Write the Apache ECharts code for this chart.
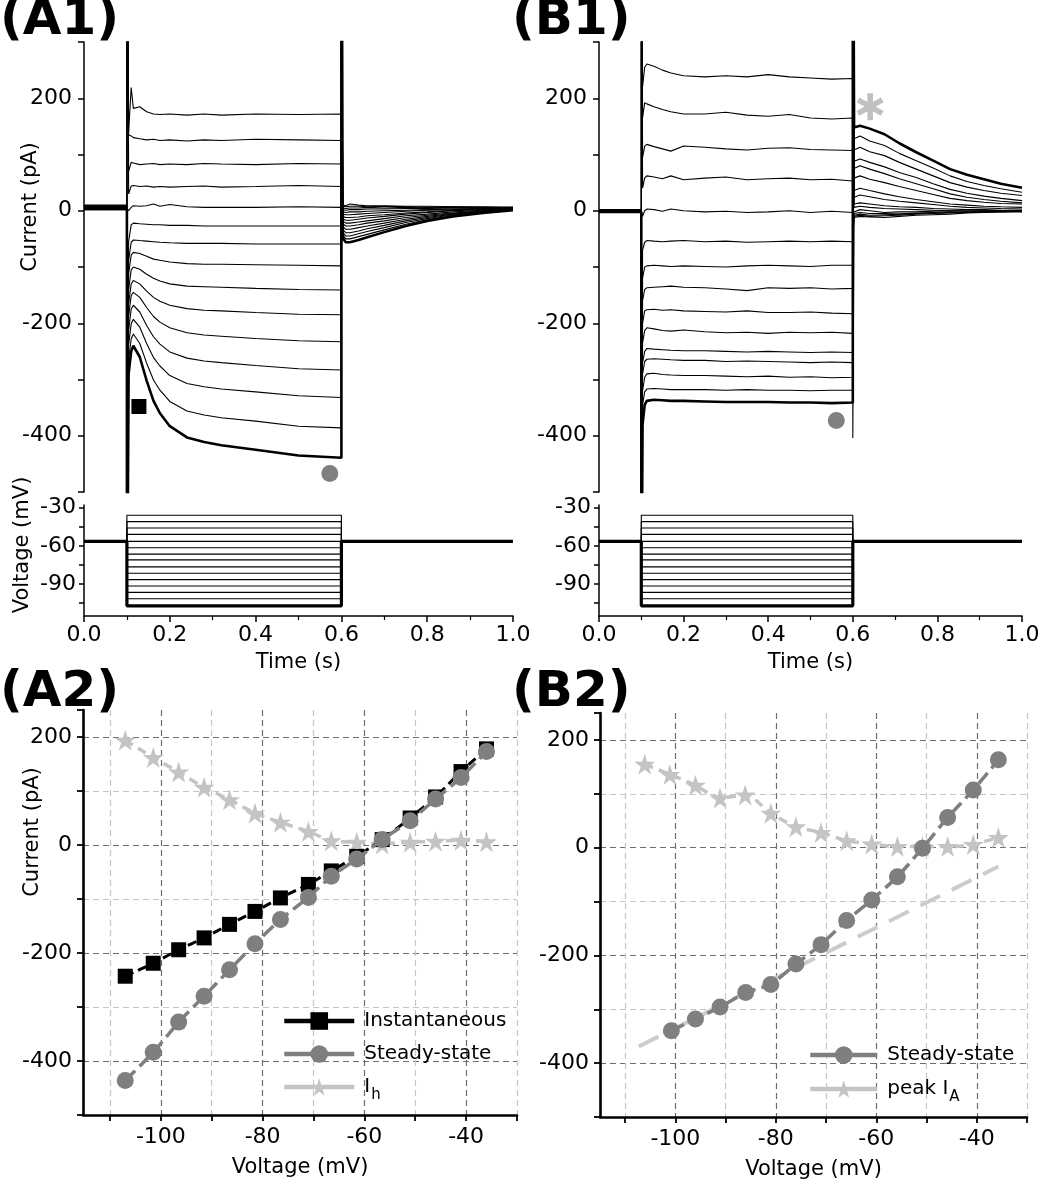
<!DOCTYPE html>
<html><head><meta charset="utf-8">
<script src="https://cdn.jsdelivr.net/npm/echarts@6/dist/echarts.min.js"></script>
<style>html,body{margin:0;padding:0;background:#fff}#c{width:1050px;height:1200px}</style>
</head><body><div id="c"></div>
<script>
// ---------------- DATA ----------------
// step voltages (mV), most negative first
const V_STEPS = [-107,-101.5,-96.5,-91.5,-86.5,-81.5,-76.5,-71,-66.5,-61.5,-56.5,-51,-46,-41,-36];
const V_HOLD = -56.5;

// A2 I-V
const V_A = [-107,-101.5,-96.5,-91.5,-86.5,-81.5,-76.5,-71,-66.5,-61.5,-56.5,-51,-46,-41,-36];
const instA = [-243,-219,-194,-172,-147,-123,-98,-73,-48,-21,10,50,89,136,178];
const ssA = [-436,-384,-328,-280,-231,-183,-138,-97,-58,-26,10,45,85,125,173];
const ihA = [194,162,135,107,84,59,42,25,8,5,2,5,7,9,6];

// B2 I-V
const V_B_ss = [-100.8,-96,-91.1,-86,-81,-76,-71,-65.9,-60.9,-55.8,-50.8,-45.8,-40.7,-35.7];
const ssB = [-340,-318,-296,-269,-254,-216,-180,-135,-97,-54,-1,56,107,163];
const V_B_ia = [-106.1,-101.1,-96,-91.1,-86.1,-81,-76,-71,-65.9,-60.9,-55.8,-50.8,-45.8,-40.7,-35.7];
const iaB = [155,136,116,92,98,64,39,28,13,7,2,2,2,6,19];
const fitB_V = [-107.3,-35.7];
const fitB_I = [-369,-35];

// A1 current traces (pA); index 0 = most hyperpolarised step
const A_pre = [3,5,8,4,6,9,2,7,5,10,4,6,8,3,7];
const A_on = [-800,-800,-800,-800,-800,-800,-800,-800,-800,-800,4,800,800,800,800];
const T_PULSE_A = [0.104,0.11,0.115,0.13,0.146,0.162,0.177,0.2,0.24,0.28,0.32,0.4,0.5,0.6];
const A_pulse = [
 [-290,-250,-240,-260,-302,-338,-360,-383,-403,-411,-417,-425,-435,-439],
 [-265,-228,-219,-236,-271,-301,-319,-339,-356,-363,-368,-374,-383,-386],
 [-238,-201,-193,-207,-236,-261,-276,-293,-307,-313,-317,-322,-329,-332],
 [-212,-175,-168,-180,-204,-224,-237,-251,-262,-267,-270,-275,-281,-283],
 [-188,-151,-145,-154,-172,-188,-198,-208,-217,-221,-223,-227,-231,-233],
 [-165,-130,-124,-130,-143,-154,-161,-168,-174,-177,-178,-181,-184,-185],
 [-140,-105,-100,-104,-113,-120,-125,-130,-134,-135,-136,-138,-140,-141],
 [-112,-79,-74,-76,-81,-86,-88,-91,-94,-95,-95,-96,-97,-98],
 [-88,-56,-52,-53,-54,-55,-56,-57,-58,-58,-58,-59,-59,-59],
 [-55,-25,-22,-23,-24,-25,-25,-26,-26,-27,-27,-27,-27,-27],
 [0,6,9,8,9,12,8,11,7,6,6,6,7,6],
 [30,44,45,43,44,42,43,42,43,44,42,43,45,43],
 [70,86,85,82,83,84,82,83,82,84,83,82,84,83],
 [135,133,130,128,126,127,125,126,124,126,125,127,126,125],
 [140,219,182,185,176,172,171,172,170,172,170,172,171,172]
];
const A_off = [800,800,800,800,800,800,800,800,800,800,6,-25,-40,-55,-70];
const T_TAIL_A = [0.603,0.61,0.62,0.64,0.66,0.7,0.75,0.8,0.86,0.93,1.0];
const A_tail = [
 [-48,-56,-56,-52,-47,-38,-27,-18,-10,-4,1],
 [-43,-50,-50,-46,-42,-34,-24,-16,-9,-3,1],
 [-38,-45,-45,-41,-37,-30,-21,-14,-7,-2,2],
 [-33,-39,-39,-36,-32,-26,-18,-12,-6,-1,2],
 [-28,-33,-33,-30,-27,-22,-15,-10,-5,-1,3],
 [-23,-27,-27,-25,-22,-18,-12,-8,-4,0,3],
 [-18,-22,-22,-20,-18,-14,-9,-6,-2,1,4],
 [-14,-17,-17,-15,-13,-10,-6,-3,0,2,4],
 [-10,-12,-12,-11,-9,-7,-4,-2,1,3,4],
 [-6,-7,-7,-6,-5,-3,-1,1,2,4,5],
 [-2,-3,-2,-2,-1,0,1,2,3,4,5],
 [2,1,2,2,3,3,4,4,5,5,5],
 [5,4,5,5,6,5,6,5,6,5,6],
 [8,7,8,8,7,8,7,6,7,6,6],
 [10,9,12,10,9,9,8,8,7,7,6]
];

// B1 current traces (pA)
const B_pre = [-2,0,1,-1,2,0,-3,1,-1,2,0,-2,1,-1,0];
const B_on = [-800,-800,-800,-800,-800,-800,-800,-800,-800,-800,-3,800,800,800,800];
const T_PULSE_B = [0.103,0.108,0.113,0.13,0.15,0.17,0.2,0.25,0.3,0.35,0.4,0.45,0.5,0.55,0.6];
const B_pulse = [
 [-380,-345,-338,-336,-337,-338,-338,-339,-340,-340,-340,-341,-341,-342,-341],
 [-345,-322,-317,-316,-317,-318,-318,-318,-319,-318,-319,-319,-320,-319,-319],
 [-320,-296,-290,-289,-291,-292,-293,-293,-294,-295,-294,-296,-295,-297,-296],
 [-290,-268,-264,-263,-264,-265,-266,-266,-268,-267,-268,-269,-270,-269,-270],
 [-270,-250,-245,-246,-247,-248,-249,-249,-250,-251,-250,-251,-252,-251,-252],
 [-235,-213,-208,-210,-213,-214,-212,-215,-217,-216,-218,-216,-217,-216,-218],
 [-200,-178,-176,-175,-177,-176,-178,-179,-180,-178,-181,-181,-180,-182,-183],
 [-160,-140,-137,-136,-135,-134,-136,-137,-139,-142,-137,-138,-137,-139,-138],
 [-120,-100,-98,-97,-98,-99,-98,-99,-100,-98,-97,-98,-99,-97,-97],
 [-70,-56,-53,-54,-55,-54,-53,-55,-54,-56,-55,-54,-55,-54,-55],
 [-10,0,3,2,-1,3,0,-2,-1,-3,-2,0,-3,-1,-3],
 [40,58,62,60,57,62,55,58,60,55,57,58,55,56,53],
 [95,115,118,114,110,106,115,113,110,108,111,112,109,108,107],
 [165,192,190,185,180,176,172,172,175,170,168,171,165,163,165],
 [220,255,261,257,250,245,240,238,240,238,242,238,236,234,235]
];
const B_off = [800,800,800,800,800,800,800,800,800,800,-3,-50,-50,-50,-404];
const T_TAIL_B = [0.603,0.617,0.64,0.675,0.71,0.75,0.79,0.83,0.87,0.91,0.95,1.0];
const B_tail = [
 [148,151,146,136,120,104,89,74,64,56,48,41],
 [128,133,124,116,102,89,76,62,52,45,39,33],
 [108,113,105,98,86,74,62,50,42,36,31,27],
 [88,92,86,78,68,59,48,38,31,26,22,18],
 [75,80,74,66,57,48,39,30,24,20,17,14],
 [58,62,56,50,43,36,29,22,18,15,13,12],
 [36,40,36,30,25,20,16,12,10,8,7,6],
 [24,28,25,20,17,14,11,8,6,5,4,3],
 [12,14,12,9,7,6,4,3,2,2,1,1],
 [6,8,6,4,3,2,1,0,0,0,0,0],
 [0,2,0,-3,-2,-2,-1,0,-1,0,0,0],
 [-5,-3,-5,-5,-6,-4,-3,-2,-3,-1,-1,0],
 [-8,-6,-8,-7,-6,-5,-4,-3,-2,-2,-1,-1],
 [-10,-8,-10,-9,-8,-6,-5,-4,-3,-2,-2,-1],
 [-12,-10,-11,-12,-10,-8,-7,-6,-4,-3,-2,-2]
];

// annotation markers [t (s), I (pA)]
const markA_square = [[0.128,-348]];
const markA_circle = [[0.573,-467]];
const markB_circle = [[0.561,-373]];
const markB_star = [[0.641,185]];

// tick values
const I_TICK_LABELS = [200,0,-200,-400];
const V_TICKS = [-105,-90,-75,-60,-45,-30];
const V_TICK_LABELS = [-90,-60,-30];
const IV_X_TICKS = [-110,-100,-90,-80,-70,-60,-50,-40,-30];
const IV_X_LABELS = [-100,-80,-60,-40];
const IV_Y_LABELS = [200,0,-200,-400];

// ---------------- BUILD ----------------
const FONT = 'DejaVu Sans';
const STAR = 'path://M50,2 L61.2,36.2 L97.6,36.2 L68.2,57.4 L79.4,91.6 L50,70.4 L20.6,91.6 L31.8,57.4 L2.4,36.2 L38.8,36.2 Z';
const ASTER = 'path://M40,0 L60,0 L60,100 L40,100 Z M1.7,33.66 L11.7,16.34 L98.3,66.34 L88.3,83.66 Z M88.3,16.34 L98.3,33.66 L11.7,83.66 L1.7,66.34 Z';

function buildTrace(pre, on, tp, pulse, off, tt, tail) {
  const d = [[0, pre], [0.1, pre], [0.1, on]];
  tp.forEach((t, i) => d.push([t, pulse[i]]));
  d.push([0.6, off]);
  tt.forEach((t, i) => d.push([t, tail[i]]));
  return d;
}
const zip = (xs, ys) => xs.map((x, i) => [x, ys[i]]);

const series = [];
for (let k = 0; k < 15; k++) {
  series.push({type:'line', xAxisIndex:0, yAxisIndex:0, symbol:'none', silent:true, z: k===0?4:2,
    data: buildTrace(A_pre[k], A_on[k], T_PULSE_A, A_pulse[k], A_off[k], T_TAIL_A, A_tail[k]),
    lineStyle:{color:'#000', width: k===0?2.6:1.1}});
  series.push({type:'line', xAxisIndex:2, yAxisIndex:2, symbol:'none', silent:true, z: k===0?4:2,
    data: buildTrace(B_pre[k], B_on[k], T_PULSE_B, B_pulse[k], B_off[k], T_TAIL_B, B_tail[k]),
    lineStyle:{color:'#000', width: k===0?2.6:1.1}});
}
V_STEPS.forEach((v, k) => {
  const d = [[0,V_HOLD],[0.1,V_HOLD],[0.1,v],[0.6,v],[0.6,V_HOLD],[1,V_HOLD]];
  [1,3].forEach(ax => series.push({type:'line', xAxisIndex:ax, yAxisIndex:ax, symbol:'none', silent:true,
    z: k===0?4:2, data: d, lineStyle:{color:'#000', width: k===0?3.2:1.1}}));
});
// annotations
const solid = c => ({color:c, opacity:1});
series.push({type:'scatter', xAxisIndex:0, yAxisIndex:0, data:markA_square, symbol:'rect', symbolSize:15, itemStyle:solid('#000'), z:5, silent:true});
series.push({type:'scatter', xAxisIndex:0, yAxisIndex:0, data:markA_circle, symbol:'circle', symbolSize:17, itemStyle:solid('#808080'), z:5, silent:true});
series.push({type:'scatter', xAxisIndex:2, yAxisIndex:2, data:markB_circle, symbol:'circle', symbolSize:17, itemStyle:solid('#808080'), z:5, silent:true});
series.push({type:'scatter', xAxisIndex:2, yAxisIndex:2, data:markB_star, symbol:ASTER, symbolSize:27, itemStyle:solid('#c0c0c0'), z:5, silent:true});

// A2
series.push({name:'Ih', type:'line', xAxisIndex:4, yAxisIndex:4, data:zip(V_A, ihA), symbol:STAR, symbolSize:21, smooth:0.3,
  itemStyle:{color:'#c4c4c4'}, lineStyle:{color:'#c4c4c4', width:3.5, type:[9,6]}, z:3});
series.push({name:'Instantaneous', type:'line', xAxisIndex:4, yAxisIndex:4, data:zip(V_A, instA), symbol:'rect', symbolSize:15, smooth:0.15,
  itemStyle:{color:'#000'}, lineStyle:{color:'#000', width:3, type:[9,5]}, z:4});
series.push({name:'Steady-state', type:'line', xAxisIndex:4, yAxisIndex:4, data:zip(V_A, ssA), symbol:'circle', symbolSize:17, smooth:0.15,
  itemStyle:{color:'#7f7f7f'}, lineStyle:{color:'#7f7f7f', width:3.5, type:[14,6]}, z:5});
// B2
series.push({name:'fit', type:'line', xAxisIndex:5, yAxisIndex:5, data:zip(fitB_V, fitB_I), symbol:'none',
  lineStyle:{color:'#cccccc', width:4, type:[22,13]}, z:2, silent:true});
series.push({name:'peak IA', type:'line', xAxisIndex:5, yAxisIndex:5, data:zip(V_B_ia, iaB), symbol:STAR, symbolSize:21, smooth:0.3,
  itemStyle:{color:'#c4c4c4'}, lineStyle:{color:'#c4c4c4', width:3.5, type:[9,6]}, z:3});
series.push({name:'Steady-state', type:'line', xAxisIndex:5, yAxisIndex:5, data:zip(V_B_ss, ssB), symbol:'circle', symbolSize:17, smooth:0.15,
  itemStyle:{color:'#7f7f7f'}, lineStyle:{color:'#7f7f7f', width:3.5, type:[14,6]}, z:5});

const lblStyle = {fontFamily:FONT, fontSize:22, color:'#000'};
const axLine = w => ({show:true, onZero:false, lineStyle:{color:'#000', width:w}});

function currentY(grid) {
  return {gridIndex:grid, type:'value', min:-500, max:300, interval:100,
    axisLine:axLine(1.5), axisTick:{show:true, length:6, lineStyle:{color:'#000', width:1.5}},
    axisLabel:Object.assign({margin:12, formatter: v => I_TICK_LABELS.includes(v) ? String(v) : ''}, lblStyle),
    splitLine:{show:false}};
}
function voltY(grid) {
  return {gridIndex:grid, type:'value', min:-115, max:-28,
    axisLine:axLine(1.5), axisTick:{show:true, length:5, customValues:V_TICKS, lineStyle:{color:'#000', width:1.5}},
    axisLabel:Object.assign({margin:8, customValues:V_TICK_LABELS}, lblStyle),
    splitLine:{show:false}};
}
function timeX(grid) {
  return {gridIndex:grid, type:'value', min:0, max:1, interval:0.2,
    axisLine:axLine(1.5), axisTick:{show:true, length:6, lineStyle:{color:'#000', width:1.5}},
    minorTick:{show:true, splitNumber:2, length:4, lineStyle:{color:'#000', width:1.2}},
    axisLabel:Object.assign({margin:8, formatter: v => v.toFixed(1)}, lblStyle),
    splitLine:{show:false}, minorSplitLine:{show:false},
    name:'Time (s)', nameLocation:'middle', nameGap:36, nameTextStyle:{fontFamily:FONT, fontSize:21, color:'#000'}};
}
function ivX(grid, mn) {
  return {gridIndex:grid, type:'value', min:mn, max:-30,
    axisLine:axLine(2.6), axisTick:{show:true, length:6, customValues:IV_X_TICKS, lineStyle:{color:'#000', width:1.8}},
    axisLabel:Object.assign({margin:11, customValues:IV_X_LABELS}, lblStyle),
    splitLine:{show:true, lineStyle:{color:['#c6c6c6','#6e6e6e'], width:1.2, type:[6,4]}},
    name:'Voltage (mV)', nameLocation:'middle', nameGap:42, nameTextStyle:{fontFamily:FONT, fontSize:21, color:'#000'}};
}
function ivY(grid) {
  return {gridIndex:grid, type:'value', min:-500, max:250, interval:100,
    axisLine:axLine(2.6), axisTick:{show:true, length:6, lineStyle:{color:'#000', width:1.8}},
    axisLabel:Object.assign({margin:11, formatter: v => IV_Y_LABELS.includes(v) ? String(v) : ''}, lblStyle),
    splitLine:{show:true, showMaxLine:false, lineStyle:{color:['#c6c6c6','#6e6e6e'], width:1.2, type:[6,4]}}};
}

const legendRich = {
  m:{fontFamily:FONT, fontSize:20, color:'#000'},
  s:{fontFamily:FONT, fontSize:15, color:'#000', padding:[16,0,0,1]}
};
const legendFmt = n => n === 'Ih' ? '{m|I}{s|h}' : (n === 'peak IA' ? '{m|peak I}{s|A}' : '{m|' + n + '}');

const option = {
  animation:false,
  textStyle:{fontFamily:FONT},
  grid:[
    {left:84, top:42, width:429, height:450},
    {left:84, top:505, width:429, height:111},
    {left:599, top:42, width:423, height:450},
    {left:599, top:505, width:423, height:111},
    {left:83, top:710, width:434, height:405},
    {left:600, top:713, width:427, height:404}
  ],
  xAxis:[
    {gridIndex:0, type:'value', min:0, max:1, show:false},
    timeX(1),
    {gridIndex:2, type:'value', min:0, max:1, show:false},
    timeX(3),
    ivX(4, -115.3),
    ivX(5, -115)
  ],
  yAxis:[currentY(0), voltY(1), currentY(2), voltY(3), ivY(4), ivY(5)],
  legend:[
    {data:['Instantaneous','Steady-state','Ih'], orient:'vertical', left:277, top:1006, itemWidth:70, itemHeight:22, itemGap:13,
     selectedMode:false, formatter:legendFmt, textStyle:{rich:legendRich, padding:[0,0,0,5]}, lineStyle:{type:'solid', width:4.5}},
    {data:['Steady-state','peak IA'], orient:'vertical', left:803, top:1040, itemWidth:67, itemHeight:22, itemGap:14,
     selectedMode:false, formatter:legendFmt, textStyle:{rich:legendRich, padding:[0,0,0,5]}, lineStyle:{type:'solid', width:4.5}}
  ],
  graphic:[
    {type:'text', left:0, top:-4, style:{text:'(A1)', font:'bold 50px "DejaVu Sans"', fill:'#000'}},
    {type:'text', left:512, top:-4, style:{text:'(B1)', font:'bold 50px "DejaVu Sans"', fill:'#000'}},
    {type:'text', left:0, top:668, style:{text:'(A2)', font:'bold 50px "DejaVu Sans"', fill:'#000'}},
    {type:'text', left:512, top:668, style:{text:'(B2)', font:'bold 50px "DejaVu Sans"', fill:'#000'}},
    {type:'text', x:31, y:207, rotation:Math.PI/2, style:{text:'Current (pA)', font:'21px "DejaVu Sans"', fill:'#000', align:'center', verticalAlign:'middle'}},
    {type:'text', x:23, y:545, rotation:Math.PI/2, style:{text:'Voltage (mV)', font:'21px "DejaVu Sans"', fill:'#000', align:'center', verticalAlign:'middle'}},
    {type:'text', x:33, y:832, rotation:Math.PI/2, style:{text:'Current (pA)', font:'21px "DejaVu Sans"', fill:'#000', align:'center', verticalAlign:'middle'}}
  ],
  series:series
};
const chart = echarts.init(document.getElementById('c'), null, {renderer:'canvas'});
chart.setOption(option);
</script></body></html>
